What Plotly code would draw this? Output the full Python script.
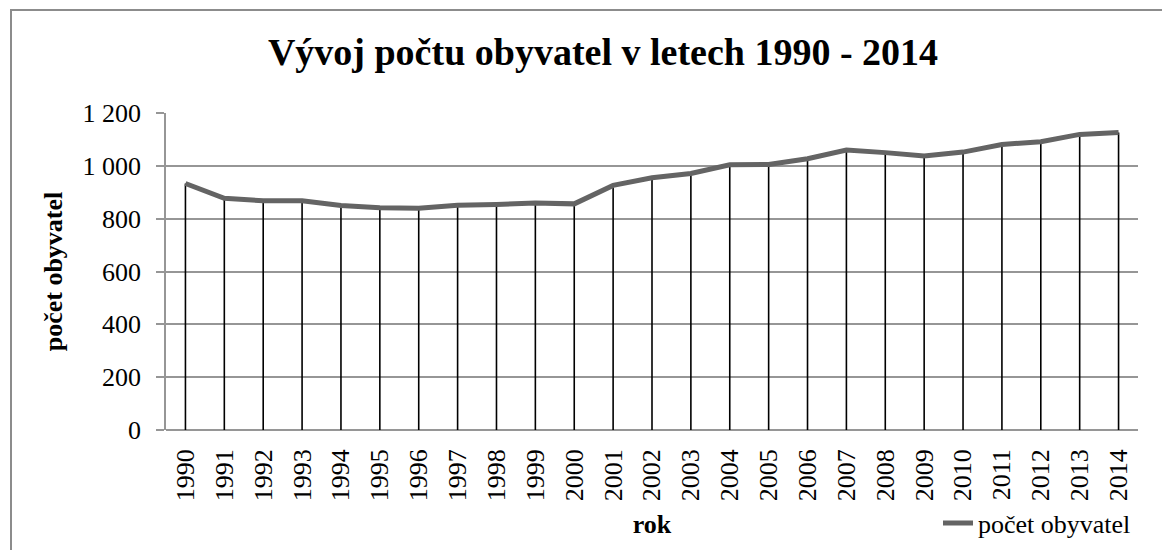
import plotly.graph_objects as go

years = [str(y) for y in range(1990, 2015)]
population = [933, 877, 868, 868, 850, 841, 839, 851, 854, 859, 856,
              926, 955, 971, 1004, 1005, 1027, 1060, 1050, 1037, 1052,
              1081, 1091, 1119, 1126]
y_ticks = [0, 200, 400, 600, 800, 1000, 1200]
y_tick_labels = ["0", "200", "400", "600", "800", "1 000", "1 200"]

title_text = "Vývoj počtu obyvatel v letech 1990 - 2014"
series_name = "počet obyvatel"

W, H = 1170, 550
ML, MR, MT, MB = 158, 40, 105, 128
PW, PH = W - ML - MR, H - MT - MB
FONT = "Liberation Serif"
GRID = "#969696"


def px_x(x):
    return (x - ML) / PW


def px_y(y):
    return (H - MB - y) / PH


fig = go.Figure()

# drop lines from each point down to the category axis
fig.add_trace(go.Scatter(
    x=years, y=population, mode="markers",
    marker=dict(size=1, color="rgba(0,0,0,0)"),
    error_y=dict(type="data", symmetric=False,
                 array=[0] * len(population), arrayminus=population,
                 color="black", thickness=1.6, width=0),
    showlegend=False, hoverinfo="skip",
))

fig.add_trace(go.Scatter(
    x=years, y=population, mode="lines", name=series_name,
    line=dict(color="#646464", width=5),
))

fig.update_layout(
    width=W, height=H,
    margin=dict(l=ML, r=MR, t=MT, b=MB, autoexpand=False),
    paper_bgcolor="white", plot_bgcolor="white",
    font=dict(family=FONT, color="black"),
    title=dict(text="<b>" + title_text + "</b>", font=dict(size=38, family=FONT),
               x=595 / W, xref="container", xanchor="center",
               y=1 - 44 / H, yref="container", yanchor="middle"),
    showlegend=True,
    legend=dict(x=930 / W, y=1 - 515 / H, xref="container", yref="container",
                xanchor="left", yanchor="middle",
                font=dict(size=26, family=FONT), bgcolor="rgba(0,0,0,0)",
                borderwidth=0),
    xaxis=dict(type="category", range=[-0.5, len(years) - 0.5],
               tickangle=-90, tickfont=dict(size=26, family=FONT),
               showgrid=False, showline=False, ticks="",
               ticklabelstandoff=13, zeroline=False, automargin=False,
               title=dict(text="<b>rok</b>", font=dict(size=26, family=FONT),
                          standoff=14)),
    yaxis=dict(range=[0, 1200], tickvals=y_ticks, ticktext=y_tick_labels,
               tickfont=dict(size=26, family=FONT),
               showgrid=True, gridcolor=GRID, gridwidth=1.5,
               showline=True, linecolor=GRID, linewidth=1.5,
               ticks="outside", ticklen=8, tickcolor=GRID, tickwidth=1.5,
               ticklabelstandoff=10, zeroline=True, zerolinecolor=GRID,
               zerolinewidth=1.5, automargin=False,
               title=dict(text="<b>" + series_name + "</b>",
                          font=dict(size=26, family=FONT), standoff=12)),
    shapes=[dict(type="rect", xref="paper", yref="paper",
                 x0=px_x(3), x1=px_x(1180), y0=px_y(560), y1=px_y(2),
                 line=dict(color="#8c8c8c", width=2), fillcolor="rgba(0,0,0,0)",
                 layer="below")],
)

fig.write_html("out.html")
